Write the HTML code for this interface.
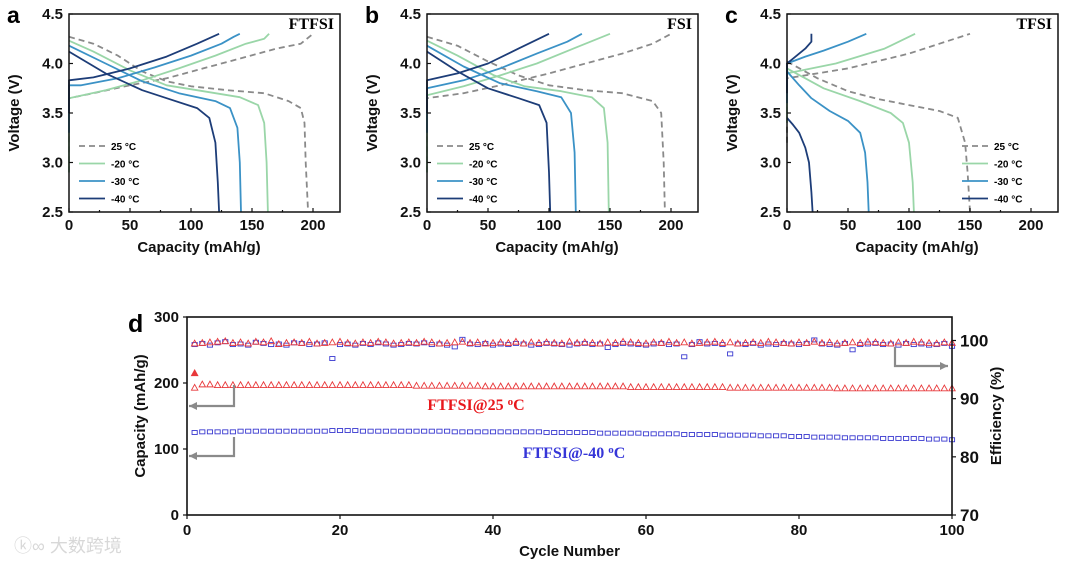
<!DOCTYPE html>
<html><head><meta charset="utf-8"><style>
html,body{margin:0;padding:0;background:#fff;}
svg{display:block;font-family:"Liberation Sans",Arial,sans-serif;}
.t{font-weight:bold;font-size:15px;fill:#111;}
.s{font-family:"Liberation Serif",serif;font-weight:bold;}
</style></head><body>
<svg id="fig" width="1080" height="564" viewBox="0 0 1080 564"></svg>
<script>
const NS="http://www.w3.org/2000/svg";
const svg=document.getElementById('fig');
function el(tag,attrs,parent,txt){const e=document.createElementNS(NS,tag);for(const k in attrs)e.setAttribute(k,attrs[k]);if(txt!==undefined)e.textContent=txt;(parent||svg).appendChild(e);return e;}

// ---- Voltage profile data (capacity mAh/g, voltage V) ----
const temps=["25 °C","-20 °C","-30 °C","-40 °C"];
const colors=["#8a8a8a","#9ad6a8","#3b92c6","#1d3d78"];
// Panel a: FTFSI
const aDisC25=[0,20,40,60,80,100,130,160,180,190,193,194,196];
const aDisV25=[4.27,4.2,4.08,3.92,3.82,3.77,3.73,3.7,3.62,3.55,3.4,3.0,2.5];
const aChC25=[0,0,20,50,80,110,140,170,190,200];
const aChV25=[2.9,3.65,3.7,3.78,3.85,3.95,4.05,4.15,4.2,4.3];
const aDisC20=[0,20,50,80,110,140,155,160,162,163];
const aDisV20=[4.23,4.12,3.93,3.78,3.72,3.66,3.58,3.4,3.0,2.5];
const aChC20=[0,0,30,60,90,120,145,160,164];
const aChV20=[2.9,3.65,3.73,3.83,3.95,4.08,4.2,4.25,4.3];
const aDisC30=[0,30,60,90,120,132,138,140,141];
const aDisV30=[4.18,4.0,3.82,3.7,3.62,3.55,3.35,3.0,2.5];
const aChC30=[0,0,10,40,70,100,125,135,140];
const aChV30=[3.3,3.78,3.78,3.85,3.96,4.08,4.2,4.27,4.3];
const aDisC40=[0,30,60,80,105,115,120,122,123];
const aDisV40=[4.12,3.9,3.73,3.65,3.55,3.45,3.2,2.8,2.5];
const aChC40=[0,0,20,50,80,105,123];
const aChV40=[3.5,3.83,3.86,3.95,4.07,4.2,4.3];
// Panel b: FSI
const bDisC25=[0,25,50,75,100,130,160,185,192,194,195];
const bDisV25=[4.27,4.18,4.02,3.88,3.78,3.73,3.7,3.62,3.5,3.0,2.5];
const bChC25=[0,0,30,60,100,130,160,185,200];
const bChV25=[2.9,3.65,3.7,3.78,3.9,4.0,4.1,4.2,4.3];
const bDisC20=[0,25,55,80,110,135,145,148,149];
const bDisV20=[4.23,4.08,3.88,3.77,3.72,3.66,3.55,3.2,2.5];
const bChC20=[0,0,30,60,90,120,150];
const bChV20=[2.9,3.68,3.77,3.88,4.0,4.15,4.3];
const bDisC30=[0,30,60,90,110,118,121,122];
const bDisV30=[4.18,3.97,3.8,3.72,3.66,3.5,3.1,2.5];
const bChC30=[0,0,30,60,90,115,127];
const bChV30=[3.3,3.75,3.83,3.95,4.1,4.22,4.3];
const bDisC40=[0,25,50,75,92,98,100,101];
const bDisV40=[4.12,3.92,3.75,3.65,3.58,3.4,2.9,2.5];
const bChC40=[0,0,25,50,75,100];
const bChV40=[3.5,3.83,3.9,4.0,4.15,4.3];
// Panel c: TFSI
const cDisC25=[0,25,50,75,100,125,140,146,148,150];
const cDisV25=[4.02,3.85,3.72,3.64,3.58,3.52,3.45,3.2,2.9,2.5];
const cChC25=[0,0,50,100,125,150];
const cChV25=[3.2,3.85,3.95,4.1,4.2,4.3];
const cDisC20=[0,15,30,60,85,95,100,103,104];
const cDisV20=[3.95,3.85,3.75,3.62,3.5,3.4,3.2,2.8,2.5];
const cChC20=[0,0,40,80,105];
const cChV20=[3.4,3.9,4.0,4.15,4.3];
const cDisC30=[0,10,20,35,50,60,64,66,67];
const cDisV30=[3.92,3.78,3.65,3.52,3.42,3.3,3.1,2.8,2.5];
const cChC30=[0,0,15,30,50,65];
const cChV30=[3.6,4.0,4.07,4.13,4.22,4.3];
const cDisC40=[0,5,10,15,18,20,21];
const cDisV40=[3.45,3.38,3.3,3.15,3.0,2.7,2.5];
const cChC40=[0,0,5,10,15,20,20];
const cChV40=[3.7,4.0,4.05,4.1,4.15,4.22,4.3];

const xTicksV=[0,50,100,150,200];
const yTicksV=[2.5,3.0,3.5,4.0,4.5];

const panels=[
 {id:"a",L:69,name:"FTFSI",sets:[[aDisC25,aDisV25,aChC25,aChV25],[aDisC20,aDisV20,aChC20,aChV20],[aDisC30,aDisV30,aChC30,aChV30],[aDisC40,aDisV40,aChC40,aChV40]],leg:"left"},
 {id:"b",L:427,name:"FSI",sets:[[bDisC25,bDisV25,bChC25,bChV25],[bDisC20,bDisV20,bChC20,bChV20],[bDisC30,bDisV30,bChC30,bChV30],[bDisC40,bDisV40,bChC40,bChV40]],leg:"left"},
 {id:"c",L:787,name:"TFSI",sets:[[cDisC25,cDisV25,cChC25,cChV25],[cDisC20,cDisV20,cChC20,cChV20],[cDisC30,cDisV30,cChC30,cChV30],[cDisC40,cDisV40,cChC40,cChV40]],leg:"right"}
];
const T=14,B=212,W=271;
panels.forEach(p=>{
  const g=el('g',{});
  
  
  const xs=v=>p.L+v*244/200, ys=v=>B-(v-2.5)*(B-T)/2;
  p.sets.forEach((s,i)=>{
    for(let k=0;k<2;k++){
      const cs=s[k*2],vs=s[k*2+1];
      const d=cs.map((c,j)=>(j?'L':'M')+xs(c).toFixed(1)+' '+ys(vs[j]).toFixed(1)).join(' ');
      const path=el('path',{d:d,fill:'none',stroke:colors[i],'stroke-width':1.8,'stroke-linejoin':'round','stroke-dasharray':i==0?'6 4':'none'},g);
      
      
    }
  });
  const fr=el('rect',{x:p.L,y:T,width:W,height:B-T,fill:'none',stroke:'#111','stroke-width':1.5},g);
  
  
  xTicksV.forEach(v=>{
    el('line',{x1:xs(v),x2:xs(v),y1:B,y2:B-4,stroke:'#111','stroke-width':1.2},g);
    const t=el('text',{x:xs(v),y:B+18,'text-anchor':'middle',class:'t'},g,String(v));
    
    
  });
  [25,75,125,175].forEach(v=>el('line',{x1:xs(v),x2:xs(v),y1:B,y2:B-2,stroke:'#111','stroke-width':1.2},g));
  yTicksV.forEach(v=>{
    el('line',{x1:p.L,x2:p.L+4,y1:ys(v),y2:ys(v),stroke:'#111','stroke-width':1.2},g);
    const t=el('text',{x:p.L-6,y:ys(v)+5,'text-anchor':'end',class:'t'},g,v.toFixed(1));
    
    
  });
  const xt=el('text',{x:p.L+130,y:252,'text-anchor':'middle',class:'t'},g,'Capacity (mAh/g)');
  
  
  const yt=el('text',{x:0,y:0,'text-anchor':'middle',class:'t',transform:`translate(${p.L-50},${(T+B)/2}) rotate(-90)`},g,'Voltage (V)');
  
  
  const pl=el('text',{x:p.L-62,y:23,style:'font-size:23px;font-weight:bold'},g,p.id);
  
  
  const nm=el('text',{x:p.L+W-6,y:29,'text-anchor':'end',class:'s',style:'font-size:16px'},g,p.name);
  
  
  const lx=p.leg=="left"?p.L+10:p.L+175;
  temps.forEach((tn,i)=>{
    const y=146+i*17.5;
    el('line',{x1:lx,x2:lx+26,y1:y,y2:y,stroke:colors[i],'stroke-width':1.8,'stroke-dasharray':i==0?'6 4':'none'},g);
    const lt=el('text',{x:lx+32,y:y+4,style:'font-size:10px;font-weight:bold'},g,tn);
    
    
  });
});

// ---- Panel d: cycling ----
const cycles=Array.from({length:100},(_,i)=>i+1);
const cap25=[215,198,198,197,197,197,197,197,197,197,197,197,197,197,197,197,197,197,197,197,197,197,197,197,197,197,197,197,197,196,196,196,196,196,196,196,196,196,195,195,195,195,195,195,195,195,195,195,195,195,195,195,195,195,195,195,195,194,194,194,194,194,194,194,194,194,194,194,194,194,193,193,193,193,193,193,193,193,193,193,193,193,193,193,192,192,192,192,192,192,192,192,192,192,192,192,192,192,192,192];
const cap40=[125,126,126,126,126,126,127,127,127,127,127,127,127,127,127,127,127,127,128,128,128,128,127,127,127,127,127,127,127,127,127,127,127,127,126,126,126,126,126,126,126,126,126,126,126,126,125,125,125,125,125,125,125,124,124,124,124,124,124,123,123,123,123,123,122,122,122,122,122,121,121,121,121,121,120,120,120,120,119,119,119,118,118,118,118,117,117,117,117,117,116,116,116,116,116,116,115,115,115,114];
const eff25=[99.5,99.6,99.7,99.8,99.9,99.6,99.7,99.5,99.8,99.7,99.9,99.4,99.6,99.7,99.6,99.8,99.5,99.6,99.7,99.8,99.6,99.5,99.7,99.6,99.8,99.7,99.5,99.6,99.7,99.6,99.8,99.7,99.5,99.6,99.7,99.8,99.6,99.7,99.5,99.6,99.7,99.6,99.8,99.5,99.7,99.6,99.7,99.6,99.5,99.8,99.6,99.7,99.6,99.5,99.7,99.6,99.8,99.7,99.6,99.5,99.7,99.6,99.8,99.6,99.7,99.5,99.6,99.7,99.8,99.6,99.7,99.5,99.6,99.7,99.6,99.8,99.7,99.6,99.5,99.7,99.6,99.8,99.6,99.7,99.5,99.6,99.7,99.6,99.8,99.7,99.6,99.5,99.7,99.6,99.8,99.7,99.6,99.5,99.7,99.6];
const eff40=[99.3,99.5,99.2,99.6,99.8,99.3,99.4,99.2,99.7,99.5,99.3,99.4,99.2,99.6,99.5,99.3,99.4,99.6,96.9,99.3,99.4,99.2,99.5,99.3,99.6,99.4,99.2,99.3,99.5,99.4,99.6,99.3,99.4,99.2,98.9,100.2,99.4,99.3,99.5,99.2,99.4,99.3,99.5,99.4,99.2,99.3,99.5,99.4,99.3,99.2,99.4,99.5,99.3,99.4,98.8,99.3,99.5,99.4,99.3,99.2,99.4,99.5,99.3,99.4,97.2,99.3,99.8,99.4,99.5,99.3,97.7,99.4,99.3,99.5,99.2,99.4,99.3,99.5,99.4,99.3,99.5,100.1,99.4,99.3,99.2,99.5,98.4,99.3,99.4,99.5,99.3,99.4,99.2,99.5,99.3,99.4,99.2,99.3,99.5,99.0];
const dXTicks=[0,20,40,60,80,100];
const dYTicks=[0,100,200,300];
const dY2Ticks=[70,80,90,100];
const DL=187,DR=952,DT=317,DB=515;
const dx=v=>DL+v*(DR-DL)/100, dy=v=>DB-v*(DB-DT)/300, dy2=v=>DB-(v-70)*(DB-340.5)/30;
const gd=el('g',{});


function tri(x,y,c,fill){const s=3.2;const m=el('path',{d:`M${x} ${y-s} L${x+s} ${y+s*0.8} L${x-s} ${y+s*0.8} Z`,fill:fill?c:'none',stroke:c,'stroke-width':0.9},gd);return m;}
function sq(x,y,c){return el('rect',{x:x-2.6,y:y-2,width:5.2,height:4,fill:'none',stroke:c,'stroke-width':0.9},gd);}
cycles.forEach((c,i)=>{
  let m=tri(dx(c),dy(cap25[i]),'#e8383a',i==0);
  
  
  m=sq(dx(c),dy(cap40[i]),'#3a3ad0');
  
  
  m=sq(dx(c),dy2(eff40[i]),'#3a3ad0');
  
  
  m=tri(dx(c),dy2(eff25[i]),'#e8383a',false);
  
  
});
tri(dx(1),dy(193),'#e8383a',false);
const df=el('rect',{x:DL,y:DT,width:DR-DL,height:DB-DT,fill:'none',stroke:'#111','stroke-width':1.6},gd);


dXTicks.forEach(v=>{
  el('line',{x1:dx(v),x2:dx(v),y1:DB,y2:DB+4,stroke:'#111','stroke-width':1.2},gd);
  const t=el('text',{x:dx(v),y:DB+20,'text-anchor':'middle',class:'t'},gd,String(v));
  
  
});
dYTicks.forEach(v=>{
  el('line',{x1:DL,x2:DL-4,y1:dy(v),y2:dy(v),stroke:'#111','stroke-width':1.2},gd);
  const t=el('text',{x:DL-8,y:dy(v)+5,'text-anchor':'end',class:'t'},gd,String(v));
  
  
});
dY2Ticks.forEach(v=>{
  el('line',{x1:DR,x2:DR+4,y1:dy2(v),y2:dy2(v),stroke:'#111','stroke-width':1.2},gd);
  const t=el('text',{x:DR+8,y:dy2(v)+6,class:'t',style:'font-size:17px'},gd,String(v));
  
  
});
let tt=el('text',{x:(DL+DR)/2,y:556,'text-anchor':'middle',class:'t'},gd,'Cycle Number');


tt=el('text',{x:0,y:0,'text-anchor':'middle',class:'t',transform:`translate(145,${(DT+DB)/2}) rotate(-90)`},gd,'Capacity (mAh/g)');


tt=el('text',{x:0,y:0,'text-anchor':'middle',class:'t',transform:`translate(1001,${(DT+DB)/2}) rotate(-90)`},gd,'Efficiency (%)');


tt=el('text',{x:128,y:332,style:'font-size:25px;font-weight:bold'},gd,'d');


tt=el('text',{x:476,y:410,'text-anchor':'middle',class:'s',style:'font-size:16px;fill:#e8181c'},gd,'FTFSI@25 ');


el('tspan',{dy:-5,style:'font-size:11px'},tt,'o');
el('tspan',{dy:5},tt,'C');
tt=el('text',{x:574,y:458,'text-anchor':'middle',class:'s',style:'font-size:16px;fill:#3535d8'},gd,'FTFSI@-40 ');


el('tspan',{dy:-5,style:'font-size:11px'},tt,'o');
el('tspan',{dy:5},tt,'C');
// arrows
function arrow(pts,name){
  const a=el('polyline',{points:pts.map(p=>p.join(',')).join(' '),fill:'none',stroke:'#8a8a8a','stroke-width':2.2},gd);
  
  
  const [x2,y2]=pts[pts.length-1],[x1]=pts[pts.length-2];const dir=x2>x1?1:-1;
  el('path',{d:`M${x2} ${y2} L${x2-dir*8} ${y2-4} L${x2-dir*8} ${y2+4} Z`,fill:'#8a8a8a'},gd);
}
arrow([[234,385],[234,406],[189,406]],'arrow-to-capacity-axis-25c');
arrow([[234,437],[234,456],[189,456]],'arrow-to-capacity-axis-minus40c');
arrow([[895,347],[895,366],[948,366]],'arrow-to-efficiency-axis');
// watermark
tt=el('text',{x:14,y:552,style:'font-size:18px;fill:#d8d8d8;font-family:"Liberation Sans","Noto Sans CJK SC",sans-serif'},svg,'ⓚ∞ 大数跨境');


</script>
</body></html>
